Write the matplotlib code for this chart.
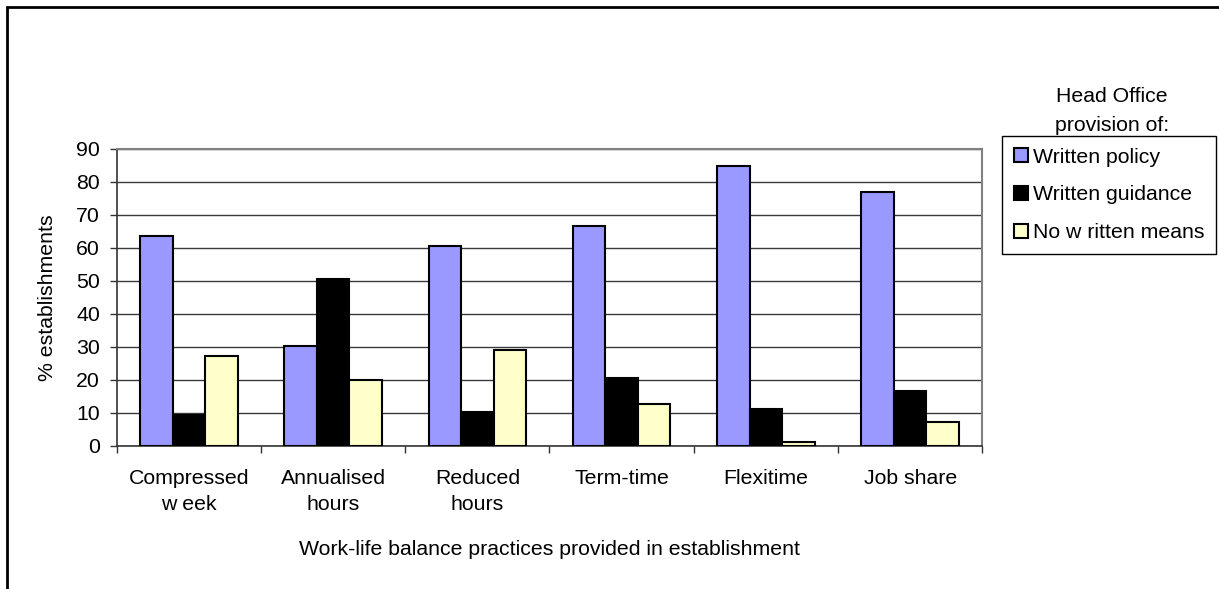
import matplotlib
matplotlib.use("Agg")
import matplotlib.pyplot as plt
import numpy as np
from matplotlib.patches import Rectangle

categories = ["Compressed\nw eek", "Annualised\nhours", "Reduced\nhours", "Term-time", "Flexitime", "Job share"]
series_names = ["Written policy", "Written guidance", "No w ritten means"]
written_policy = [63.5, 30.2, 60.5, 66.6, 84.8, 77.0]
written_guidance = [9.3, 50.5, 10.3, 20.6, 11.0, 16.6]
no_written_means = [27.2, 19.9, 29.0, 12.6, 1.1, 7.3]
colors = ["#9999FF", "#000000", "#FFFFCC"]
yticks = [0, 10, 20, 30, 40, 50, 60, 70, 80, 90]

plt.rcParams['font.family'] = ['Liberation Sans', 'DejaVu Sans']
FS = 15.3

W, H = 1219, 589
fig = plt.figure(figsize=(W / 100, H / 100), dpi=100)
fig.patch.set_facecolor("white")

# outer chart border (only left and top visible)
fig.add_artist(Rectangle((7 / W, -0.05), 1.2, (H - 7) / H + 0.05, transform=fig.transFigure,
                         fill=False, edgecolor="black", linewidth=2))

left, right = 116.7, 982.3
top, bottom = 148.7, 445.7
ax = fig.add_axes([left / W, 1 - bottom / H, (right - left) / W, (bottom - top) / H])

x = np.arange(len(categories))
bw = 0.225
data = [written_policy, written_guidance, no_written_means]
for i, (vals, c, name) in enumerate(zip(data, colors, series_names)):
    ax.bar(x + (i - 1) * bw, vals, width=bw, color=c, edgecolor="black", linewidth=1.5,
           label=name, zorder=3)

ax.set_xlim(-0.5, len(categories) - 0.5)
ax.set_ylim(0, 90)
ax.set_yticks(yticks)
ax.set_yticklabels([str(v) for v in yticks], fontsize=FS)
ax.yaxis.grid(True, color="#3a3a3a", linewidth=1.0, zorder=0)
ax.set_axisbelow(True)

# category boundaries as major ticks, labels at centers as minor ticks
ax.set_xticks(np.arange(len(categories) + 1) - 0.5)
ax.set_xticklabels([])
ax.set_xticks(x, minor=True)
ax.set_xticklabels(categories, minor=True, fontsize=FS, linespacing=1.45)
ax.tick_params(axis="x", which="minor", length=0, pad=17)
ax.tick_params(axis="x", which="major", direction="out", length=5, width=1, color="#333333")
ax.tick_params(axis="y", direction="out", length=5, width=1, pad=7, color="#333333")

for s in ["top", "right"]:
    ax.spines[s].set_color("#808080")
    ax.spines[s].set_linewidth(1.5)
ax.spines["left"].set_color("#333333")
ax.spines["bottom"].set_color("#333333")
ax.spines["left"].set_linewidth(1.2)
ax.spines["bottom"].set_linewidth(1.2)

ax.set_xlabel("Work-life balance practices provided in establishment", fontsize=FS, labelpad=19)
ax.set_ylabel("% establishments", fontsize=FS, labelpad=14)

fig.text(1112 / W, 1 - 111 / H, "Head Office\nprovision of:", ha="center", va="center",
         fontsize=FS, linespacing=1.65)

leg = fig.legend(loc="upper left", bbox_to_anchor=(1002 / W, 1 - 136 / H), fontsize=FS,
                 frameon=True, fancybox=False, edgecolor="black", framealpha=1,
                 handlelength=0.65, handleheight=0.65, handletextpad=0.25,
                 labelspacing=0.88, borderpad=0.55, borderaxespad=0)
leg.get_frame().set_linewidth(1.0)

fig.savefig("out.png", dpi=100)
